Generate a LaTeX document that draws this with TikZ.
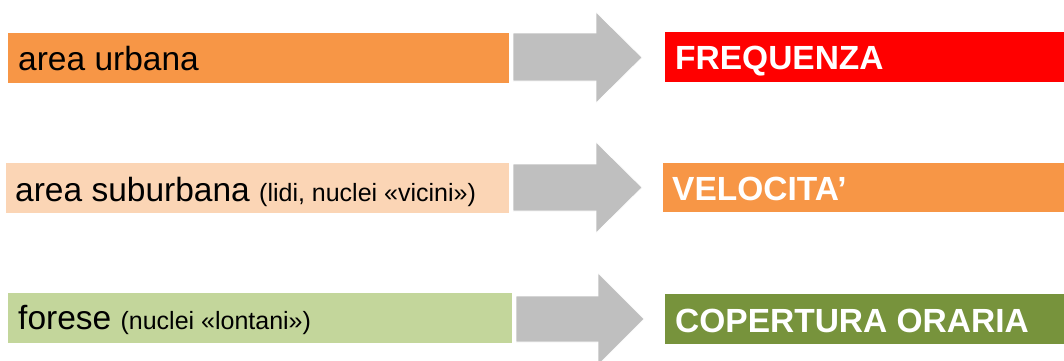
\documentclass[tikz,border=0pt]{standalone}
\usepackage{fontspec}
\setmainfont{Liberation Sans}
\definecolor{accorange}{HTML}{F79646}
\definecolor{lightorange}{HTML}{FBD5B5}
\definecolor{lightgreen}{HTML}{C3D69B}
\definecolor{darkgreen}{HTML}{77933C}
\definecolor{alertred}{HTML}{FF0000}
\definecolor{arrowgray}{HTML}{BFBFBF}
\newcommand{\bigtxt}{\fontsize{33.5}{40}\selectfont}
\newcommand{\smalltxt}{\fontsize{25}{30}\selectfont}
\begin{document}
\begin{tikzpicture}[x=1pt,y=-1pt,
  areabox/.style={draw=white,line width=0.8pt},
  goalbox/.style={draw=white,line width=0.8pt},
  areatext/.style={anchor=base west,inner sep=0pt,text=black},
  goaltext/.style={anchor=base west,inner sep=0pt,text=white,font=\bfseries\bigtxt},
  blockarrow/.style={fill=arrowgray,draw=white,line width=0.6pt}]
\useasboundingbox (0,0) rectangle (1064,360);
\clip (0,0) rectangle (1064,360);

% left column: the three areas
\fill[accorange,areabox] (7,32) rectangle (509,83);
\node[areatext] (a1) at (18,70) {\bigtxt area urbana};

\fill[lightorange,areabox] (5,162) rectangle (509,213);
\node[areatext] (a2) at (15,201) {\bigtxt area suburbana \smalltxt(lidi, nuclei «vicini»)};

\fill[lightgreen,areabox] (7,292) rectangle (512,343);
\node[areatext] (a3) at (18,329) {\bigtxt forese \smalltxt(nuclei «lontani»)};

% block arrows
\fill[blockarrow] (513,33) -- (596,33) -- (596,12) -- (642,57.5) -- (596,103) -- (596,81) -- (513,81) -- cycle;
\fill[blockarrow] (513,164) -- (596,164) -- (596,142) -- (642,187.5) -- (596,233) -- (596,211) -- (513,211) -- cycle;
\fill[blockarrow] (516,296) -- (598,296) -- (598,273) -- (644,319) -- (598,365) -- (598,342) -- (516,342) -- cycle;

% right column: the service priorities
\fill[alertred,goalbox] (664,31) rectangle (1066,82);
\node[goaltext] (g1) at (675,69) {FREQUENZA};

\fill[accorange,goalbox] (662,162) rectangle (1066,212);
\node[goaltext] (g2) at (672,200) {VELOCITA’};

\fill[darkgreen,goalbox] (664,293) rectangle (1066,344);
\node[goaltext] (g3) at (675,332) {COPERTURA ORARIA};
\end{tikzpicture}
\end{document}
